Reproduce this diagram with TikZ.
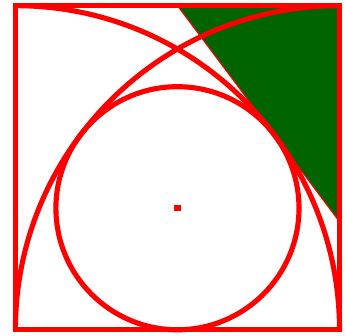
\documentclass[tikz,border=0pt]{standalone}
\usepackage{tikz}
\usepackage{xcolor}
\definecolor{darkgreen}{RGB}{0,100,0}
\tikzset{redline/.style={red, line width=1.8pt}}

\begin{document}
\begin{tikzpicture}
    \useasboundingbox (-0.19,-0.07) rectangle (4.08,4.07);
    % Green corner
    \filldraw[red, line width=0.4pt, fill=darkgreen] (2,4) -- (4,4) -- (4,4/3) -- cycle;
    % Square
    \draw[redline] (0,0) rectangle (4,4);
    % Quarter arcs
    \draw[redline] (0,4) arc[start angle=90, end angle=0, radius=4];
    \draw[redline] (0,0) arc[start angle=180, end angle=90, radius=4];
    % Inner circle
    \draw[redline] (2,1.5) circle[radius=1.5];
    % Centre
    \fill[red] (1.96,1.46) rectangle (2.04,1.54);
\end{tikzpicture}
\end{document}
